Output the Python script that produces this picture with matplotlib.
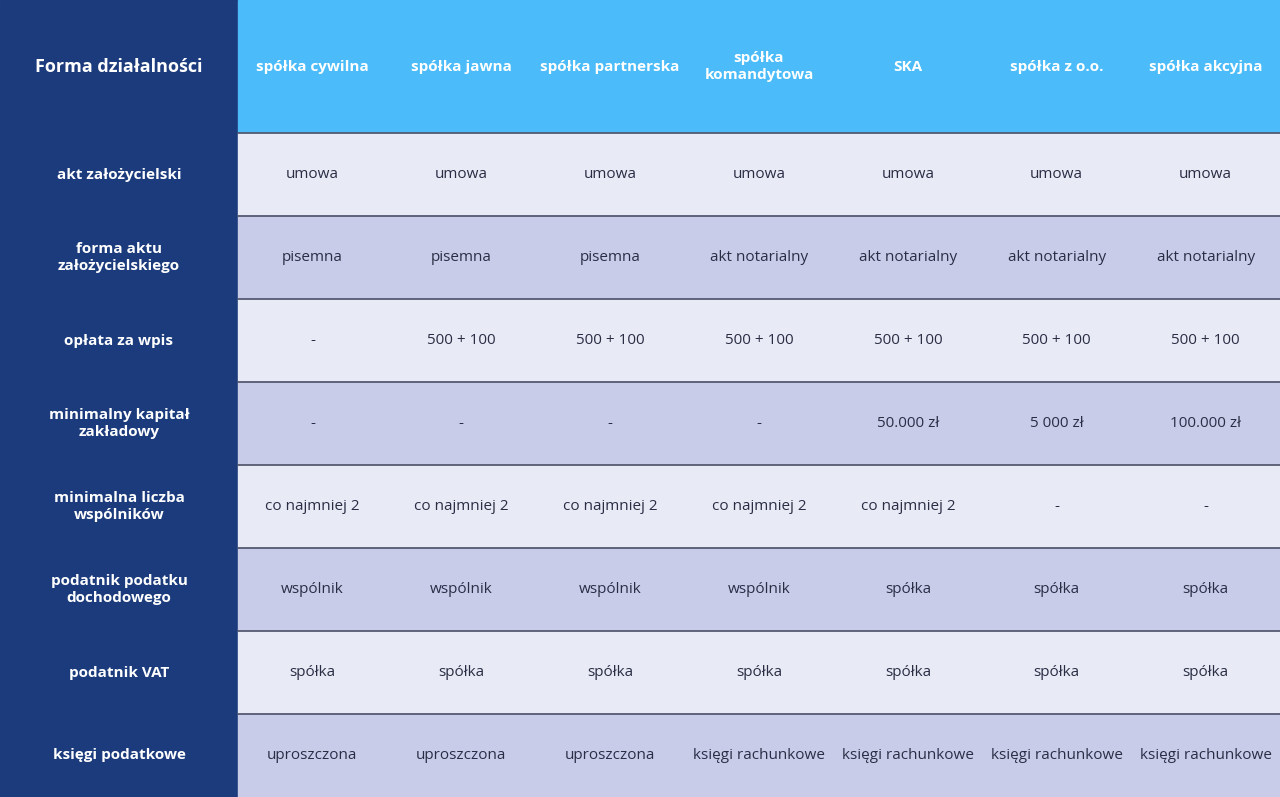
import matplotlib
matplotlib.use("Agg")
import matplotlib.pyplot as plt
from matplotlib.patches import Rectangle

header_label = "Forma działalności"
columns = ["spółka cywilna", "spółka jawna", "spółka partnerska", "spółka\nkomandytowa",
           "SKA", "spółka z o.o.", "spółka akcyjna"]
row_labels = ["akt założycielski", "forma aktu\nzałożycielskiego", "opłata za wpis",
              "minimalny kapitał\nzakładowy", "minimalna liczba\nwspólników",
              "podatnik podatku\ndochodowego", "podatnik VAT", "księgi podatkowe"]
cells = [
    ["umowa"] * 7,
    ["pisemna"] * 3 + ["akt notarialny"] * 4,
    ["-"] + ["500 + 100"] * 6,
    ["-"] * 4 + ["50.000 zł", "5 000 zł", "100.000 zł"],
    ["co najmniej 2"] * 5 + ["-", "-"],
    ["wspólnik"] * 4 + ["spółka"] * 3,
    ["spółka"] * 7,
    ["uproszczona"] * 3 + ["księgi rachunkowe"] * 4,
]

W, H = 1280, 797
left_w, head_h = 238, 133
row_h = (H - head_h) / len(row_labels)
col_w = (W - left_w) / len(columns)
font = "Open Sans"

fig = plt.figure(figsize=(12.8, 7.97), dpi=100)
ax = fig.add_axes([0, 0, 1, 1])
ax.set_xlim(0, W); ax.set_ylim(H, 0); ax.axis("off")

ax.add_patch(Rectangle((0, 0), left_w, H, color="#1b3b7c"))
ax.add_patch(Rectangle((left_w, 0), W - left_w, head_h, color="#4bbcf9"))
for i in range(len(row_labels)):
    y = head_h + i * row_h
    ax.add_patch(Rectangle((left_w, y), W - left_w, row_h,
                           color="#e8eaf5" if i % 2 == 0 else "#c9cce9"))
    ax.plot([left_w, W], [y, y], color="#4a4f66", lw=1.2)
    ax.text(left_w / 2, y + row_h / 2, row_labels[i], ha="center", va="center",
            color="white", fontsize=11, fontweight="bold", family=font, linespacing=1.3)
    for j, v in enumerate(cells[i]):
        ax.text(left_w + (j + 0.5) * col_w, y + row_h / 2, v, ha="center", va="center",
                color="#2a2e45", fontsize=11, family=font)

ax.text(left_w / 2, head_h / 2, header_label, ha="center", va="center", color="white",
        fontsize=13, fontweight="bold", family=font)
for j, c in enumerate(columns):
    ax.text(left_w + (j + 0.5) * col_w, head_h / 2, c, ha="center", va="center",
            color="white", fontsize=11, fontweight="bold", family=font, linespacing=1.3)

fig.savefig("out.png", dpi=100)
